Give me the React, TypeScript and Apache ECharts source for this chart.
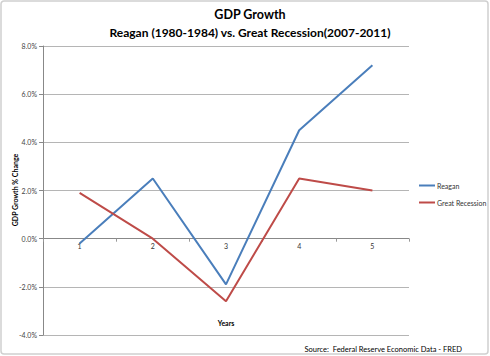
import React, { useEffect, useRef } from "react";
import * as echarts from "echarts";

const categories = ["1", "2", "3", "4", "5"];
const reagan = [-0.2, 2.5, -1.9, 4.5, 7.2];
const greatRecession = [1.9, 0.0, -2.6, 2.5, 2.0];
const seriesNames = ["Reagan", "Great Recession"];

export default function App() {
  const ref = useRef<HTMLDivElement>(null);
  useEffect(() => {
    const chart = echarts.init(ref.current!, null, { renderer: "svg" });
    const font = "Lato";
    chart.setOption({
      animation: false,
      backgroundColor: "#ffffff",
      textStyle: { fontFamily: font },
      title: [
        {
          text: "GDP Growth",
          left: 245,
          top: 3,
          textAlign: "center",
          textStyle: { fontSize: 12.5, fontWeight: "bold", color: "#000", fontFamily: font },
        },
        {
          text: "Reagan (1980-1984) vs. Great Recession(2007-2011)",
          left: 245,
          top: 21,
          textAlign: "center",
          textStyle: { fontSize: 12, fontWeight: "bold", color: "#000", fontFamily: font },
        },
      ],
      legend: {
        orient: "vertical",
        left: 419,
        top: 182,
        padding: 0,
        itemWidth: 16,
        itemHeight: 2,
        itemGap: 10,
        icon: "rect",
        data: seriesNames,
        textStyle: { fontSize: 7, color: "#333", fontFamily: font, padding: [0, 0, 0, -3] },
      },
      grid: { left: 43, right: 81, top: 46, bottom: 21 },
      xAxis: {
        type: "category",
        data: categories,
        boundaryGap: true,
        offset: -96.3,
        axisLine: { onZero: false, lineStyle: { color: "#888", width: 1 } },
        axisTick: { show: true, lineStyle: { color: "#999" }, length: 3 },
        axisLabel: { fontSize: 7, color: "#333", margin: 4 },
        splitLine: { show: false },
      },
      yAxis: {
        type: "value",
        min: -4,
        max: 8,
        interval: 2,
        axisLine: { show: true, lineStyle: { color: "#888" } },
        axisTick: { show: true, length: 4, lineStyle: { color: "#888" } },
        axisLabel: {
          fontSize: 7,
          color: "#444",
          margin: 6,
          formatter: (v: number) => v.toFixed(1) + "%",
        },
        splitLine: { show: true, lineStyle: { color: "#b5b5b5", width: 1 } },
      },
      series: [
        {
          name: seriesNames[0],
          type: "line",
          data: reagan,
          symbol: "none",
          lineStyle: { color: "#4a7ebb", width: 2 },
          itemStyle: { color: "#4a7ebb" },
        },
        {
          name: seriesNames[1],
          type: "line",
          data: greatRecession,
          symbol: "none",
          lineStyle: { color: "#be4b48", width: 2 },
          itemStyle: { color: "#be4b48" },
        },
      ],
      graphic: [
        {
          type: "rect",
          shape: { x: 1, y: 1, width: 487, height: 353, r: 3 },
          style: { fill: "none", stroke: "#d0d0d0", lineWidth: 1.5 },
          z: 100,
        },
        {
          type: "text",
          x: 15,
          y: 190,
          rotation: Math.PI / 2,
          style: {
            text: "GDP Growth % Change",
            font: "bold 7px Lato",
            fill: "#000",
            align: "center",
            verticalAlign: "middle",
          },
        },
        {
          type: "text",
          x: 226,
          y: 323,
          style: {
            text: "Years",
            font: "bold 7px Lato",
            fill: "#000",
            align: "center",
            verticalAlign: "middle",
          },
        },
        {
          type: "text",
          x: 462,
          y: 349,
          style: {
            text: "Source:  Federal Reserve Economic Data - FRED",
            font: "7.5px Lato",
            fill: "#000",
            align: "right",
            verticalAlign: "middle",
          },
        },
      ],
    });
    return () => chart.dispose();
  }, []);
  return (
    <div
      ref={ref}
      style={{ position: "fixed", left: 0, top: 0, width: 490, height: 356 }}
    />
  );
}
